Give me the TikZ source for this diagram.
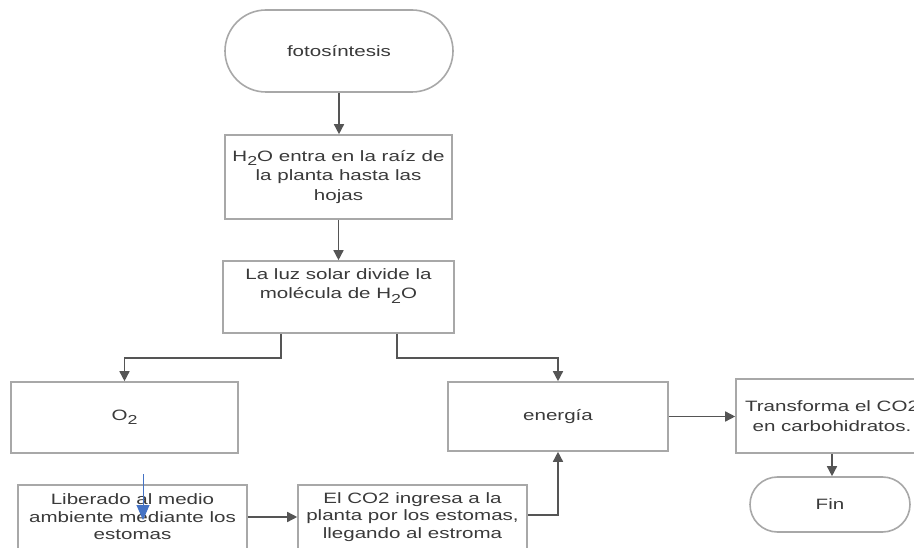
\documentclass[tikz,border=0pt]{standalone}
\usepackage{fontspec}
\setmainfont{Liberation Sans}[FakeStretch=1.37]
\usetikzlibrary{arrows.meta}
\definecolor{boxline}{HTML}{A8A8A8}
\definecolor{arrowc}{HTML}{555555}
\definecolor{txt}{HTML}{3A3A3A}
\definecolor{bluearrow}{HTML}{4472C4}
\newcommand{\lowtwo}{\raisebox{-4.5pt}{\fontsize{13}{13}\selectfont 2}}
\begin{document}
\begin{tikzpicture}[x=1pt,y=-1pt,
  box/.style={draw=boxline, line width=1.6pt, fill=white, text=txt, align=center, inner sep=0pt,
    font=\fontsize{15}{19.5}\selectfont},
  tightbox/.style={box, font=\fontsize{15}{17.5}\selectfont},
  plain/.style={text=txt, align=center, inner sep=0pt, font=\fontsize{15}{19.5}\selectfont},
  conn/.style={draw=arrowc, line width=1.5pt, -{Triangle[length=10pt,width=10pt]}},
  bluecon/.style={draw=bluearrow, line width=1pt, -{Triangle[length=15pt,width=13pt]}}
]
\useasboundingbox (0,0) rectangle (914,548);
\clip (0,0) rectangle (914,548);
\fill[white] (0,0) rectangle (914,548);

\node[box, rounded corners=41pt, minimum width=228pt, minimum height=82pt] (start) at (339,51) {fotosíntesis};
\node[box, minimum width=227pt, minimum height=84pt] (h2o) at (338.5,177) {H\lowtwo O entra en la raíz de\\la planta hasta las\\hojas};
\node[box, minimum width=231pt, minimum height=72pt] (luz) at (338.5,297) {};
\node[plain] (luzt) at (338.5,286) {La luz solar divide la\\molécula de H\lowtwo O};
\node[box, minimum width=227pt, minimum height=71pt] (o2) at (124.5,417.5) {O\lowtwo};
\node[box, minimum width=220pt, minimum height=69pt] (energia) at (558,416.5) {energía};
\node[box, minimum width=192pt, minimum height=74pt] (trans) at (832,416) {Transforma el CO2\\en carbohidratos.};
\node[box, rounded corners=27.5pt, minimum width=160pt, minimum height=55pt] (fin) at (830,504.5) {Fin};
\node[tightbox, minimum width=229pt, minimum height=64pt] (lib) at (132.5,517) {Liberado al medio\\ambiente mediante los\\estomas};
\node[tightbox, minimum width=229pt, minimum height=64pt] (co2) at (412.5,517) {El CO2 ingresa a la\\planta por los estomas,\\llegando al estroma};

\draw[conn] (start.south) -- (start.south |- h2o.north);
\draw[conn] (h2o.south) -- (h2o.south |- luz.north);
\draw[conn] ([xshift=-57.5pt]luz.south) -- ++(0,24) -| (o2.north);
\draw[conn] ([xshift=58.5pt]luz.south) -- ++(0,24) -| (energia.north);
\draw[conn] (lib.east) -- (co2.west);
\draw[conn] ([yshift=2pt]co2.east) -| (energia.south);
\draw[conn] (energia.east) -- (energia.east -| trans.west);
\draw[conn] (trans.south) -- (trans.south |- fin.north);

\coordinate (bs) at (143,474);
\coordinate (be) at (143,520);
\draw[bluecon] (bs) -- (be);
\end{tikzpicture}
\end{document}
